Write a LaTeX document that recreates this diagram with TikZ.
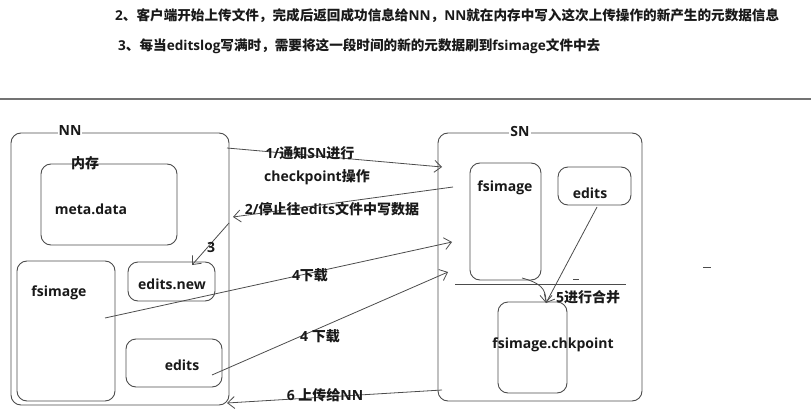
\documentclass[tikz,border=0pt]{standalone}
\usepackage{fontspec}
\setmainfont{Open Sans}
\newfontfamily\cjk{Noto Sans CJK SC}
\usetikzlibrary{arrows.meta}
\tikzset{
    box/.style={draw=black!70, rounded corners=10pt, line width=0.9pt, inner sep=0pt},
    lbl/.style={font=\bfseries\fontsize{14}{16}\selectfont, text=black!90, inner sep=0pt},
    head/.style={font=\bfseries\fontsize{13.6}{16}\selectfont, text=black!90, inner sep=0pt, anchor=west},
    arr/.style={draw=black!70, line width=0.8pt, -{Straight Barb[length=7pt,width=12pt]}},
}
\begin{document}
\begin{tikzpicture}[x=1pt,y=-1pt]
            \useasboundingbox (0,0) rectangle (811,412);
            \node[head] (line2) at (115,16) {2{\cjk 、客户端开始上传文件，完成后返回成功信息给}NN{\cjk ，}NN{\cjk 就在内存中写入这次上传操作的新产生的元数据信息}};
            \node[head] (line3) at (118,46) {3{\cjk 、每当}editslog{\cjk 写满时，需要将这一段时间的新的元数据刷到}fsimage{\cjk 文件中去}};
            \draw[black!55, line width=2.5pt] (0,99) -- (811,99);
            % NN side
            \node[box, minimum width=218, minimum height=272] (nn) at (120,269) {};
            \node[lbl, fill=white, inner sep=1pt] (nnlbl) at (70,131) {NN};
            \node[box, minimum width=136, minimum height=81] (meta) at (109,204.5) {};
            \node[lbl] (neicun) at (85,163) {\cjk 内存};
            \node[lbl] (metatxt) at (91,209) {meta.data};
            \node[box, minimum width=98, minimum height=140] (nnfs) at (66,331) {};
            \node[lbl] (nnfstxt) at (59,293) {fsimage};
            \node[box, minimum width=87, minimum height=39] (editsnew) at (171.5,281.5) {};
            \node[lbl] (editsnewtxt) at (172,284) {edits.new};
            \node[box, minimum width=96, minimum height=48] (nnedits) at (174,363) {};
            \node[lbl] (nneditstxt) at (182,365) {edits};
            % SN side
            \node[box, minimum width=204, minimum height=268] (sn) at (540,267) {};
            \node[lbl, fill=white, inner sep=1pt] (snlbl) at (520,131) {SN};
            \node[box, minimum width=71, minimum height=117] (snfs) at (505.5,221.5) {};
            \node[lbl] (snfstxt) at (505,188) {fsimage};
            \node[box, minimum width=73, minimum height=38] (snedits) at (594.5,186) {};
            \node[lbl] (sneditstxt) at (590,193) {edits};
            \node[box, minimum width=69, minimum height=91] (chk) at (532.5,347.5) {};
            \node[lbl] (chktxt) at (553,345) {fsimage.chkpoint};
            \draw[black!70, line width=0.8pt] (455,284) -- (626,284);
            \draw[black!70, line width=0.8pt] (573,279) -- (579,279);
            \draw[black!70, line width=0.8pt] (703,267) -- (711,267);
            \node[lbl] (merge) at (588,297) {5{\cjk 进行合并}};
            % connectors
            \coordinate (a1s) at (227,148);
            \coordinate (a1e) at (442,167);
            \coordinate (a2s) at (453,187);
            \coordinate (a2e) at (233,217);
            \coordinate (a3s) at (229,223);
            \coordinate (a3e) at (192,265);
            \coordinate (a4s) at (105,318);
            \coordinate (a4e) at (452,242);
            \coordinate (a5s) at (212,375);
            \coordinate (a5e) at (448,272);
            \coordinate (a6s) at (442,390);
            \coordinate (a6e) at (227,403);
            \coordinate (mtip) at (546,303);
            \draw[arr] (a1s) -- (a1e);
            \draw[arr] (a2s) -- (a2e);
            \draw[arr] (a3s) -- (a3e);
            \draw[arr] (a4s) -- (a4e);
            \draw[arr] (a5s) -- (a5e);
            \draw[arr] (a6s) -- (a6e);
            \draw[arr] (597,207) -- (mtip);
            \draw[arr] (522,278) .. controls (540,283) and (546,288) .. (mtip);
            \node[lbl] (t1) at (310,153) {1/{\cjk 通知}SN{\cjk 进行}};
            \node[lbl] (t1b) at (317,177) {checkpoint{\cjk 操作}};
            \node[lbl] (t2) at (332,209) {2/{\cjk 停止往}edits{\cjk 文件中写数据}};
            \node[lbl] (t3) at (211,247) {3};
            \node[lbl] (t4) at (310,275) {4{\cjk 下载}};
            \node[lbl] (t5) at (320,336) {4 {\cjk 下载}};
            \node[lbl] (t6) at (325,395) {6 {\cjk 上传给}NN};
\end{tikzpicture}
\end{document}
